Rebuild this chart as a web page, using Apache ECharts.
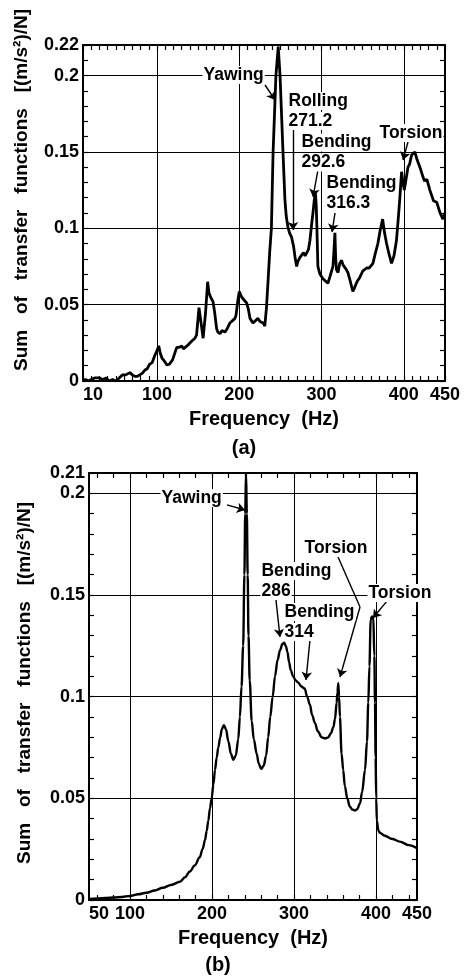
<!DOCTYPE html>
<html>
<head>
<meta charset="utf-8">
<script src="https://cdn.jsdelivr.net/npm/echarts@6/dist/echarts.min.js"></script>
<style>
html, body { margin: 0; padding: 0; background: #fff; }
#chart { width: 465px; height: 976px; }
</style>
</head>
<body>
<div id="chart"></div>
<script>
// (a) measured sum of transfer functions
var freqA = [10, 13, 17, 20, 24, 30, 34, 38, 42, 46, 50, 54, 58, 62, 67, 70, 73, 76, 79, 82, 85, 88, 91, 94, 97.5, 100,
  102, 104, 106, 109, 112, 115, 119, 122, 124, 127, 130, 132, 134, 137.6, 140, 142, 146, 148, 151, 153, 156, 159, 161.5,
  163, 165, 168, 170, 172.5, 174, 176.5, 179, 182.5, 185, 188.6, 191, 194.7, 196, 198, 200, 202.8, 205, 209, 211, 213,
  216.6, 219, 222.7, 225, 227, 229, 231, 233, 235, 237, 239, 241, 244.5, 247.3, 249.5, 251.5, 253, 255.4, 257, 259, 261,
  263.6, 266, 268, 269.7, 271, 273.7, 276, 278, 280, 282, 284, 285.8, 288, 289.5, 291, 292.5, 293.5, 294.3, 295.5, 298,
  301.6, 304, 307.7, 310, 313.8, 315, 316.2, 317, 318, 320, 322, 324.3, 326, 328.3, 330, 332, 335, 338, 340, 343, 346.6,
  350, 354.7, 358, 362.4, 365, 368.4, 371, 374.2, 376.5, 379, 382, 385, 388, 391, 393, 395, 397.2, 399, 400.5, 402.5,
  405, 407, 409.4, 413.4, 416, 419.5, 423, 425, 428, 431.6, 436, 440, 444, 447.4, 450];
var valA = [0, 0.001, 0, 0.001, 0.002, 0.002, 0.001, 0.002, 0, 0.001, 0, 0.002, 0.004, 0.004, 0.0055, 0.004, 0.003, 0.003,
  0.004, 0.005, 0.007, 0.008, 0.011, 0.012, 0.017, 0.02,
  0.023, 0.018, 0.015, 0.013, 0.0105, 0.011, 0.014, 0.019, 0.022, 0.022, 0.023, 0.021, 0.021, 0.0236, 0.024, 0.026,
  0.028, 0.03, 0.048, 0.04, 0.028, 0.045, 0.065,
  0.058, 0.055, 0.052, 0.045, 0.034, 0.032, 0.031, 0.033, 0.032, 0.034, 0.038, 0.039, 0.041, 0.043, 0.052, 0.0586,
  0.055, 0.054, 0.051, 0.047, 0.041,
  0.038, 0.039, 0.041, 0.039, 0.04, 0.038, 0.036, 0.048, 0.066, 0.085, 0.1, 0.149, 0.2, 0.219, 0.2, 0.172, 0.151, 0.119,
  0.108, 0.101, 0.097,
  0.094, 0.088, 0.08, 0.075, 0.078, 0.081, 0.081, 0.084, 0.082, 0.083, 0.086, 0.092, 0.103, 0.11, 0.118, 0.123, 0.115,
  0.1, 0.075, 0.07,
  0.067, 0.066, 0.064, 0.068, 0.075, 0.085, 0.097, 0.082, 0.073, 0.071, 0.077, 0.079, 0.076, 0.075, 0.073, 0.071, 0.065,
  0.0586, 0.061, 0.065, 0.068,
  0.072, 0.074, 0.074, 0.077, 0.083, 0.09, 0.098, 0.106, 0.097, 0.09, 0.083, 0.077, 0.082, 0.092, 0.105, 0.119, 0.137,
  0.13, 0.125, 0.126,
  0.14, 0.142, 0.148, 0.15, 0.145, 0.14, 0.134, 0.131, 0.132, 0.125, 0.118, 0.117, 0.11, 0.106, 0.11];

// (b) calculated sum of transfer functions
var freqB = [50, 60, 70, 80, 90, 100, 110, 120, 130, 140, 150, 161, 167, 173, 179, 185, 188.5, 191.5, 193.5, 195.5,
  197.5, 199.6, 201.7, 203.7, 205.7, 207.7, 210, 212, 214.5, 217, 220, 223, 226, 229, 232, 234, 236, 238, 239.5, 240.5,
  241.5, 242.5, 243.5, 244.5, 246, 248.4, 251, 254.5, 257, 260, 263, 266, 268.5, 271, 274, 276.8, 280, 283, 286, 288,
  290, 292, 294, 296, 299, 302, 305, 309, 313, 316, 319.5, 322, 325.6, 329, 333.8, 338, 341.8, 345, 348, 350, 352, 353,
  354, 355, 356, 358, 360, 362, 365, 368, 371, 374.4, 377, 380.5, 383, 386.6, 389, 390.6, 392, 393.5, 395, 396.7, 398,
  398.8, 399.5, 400.3, 401, 403, 405, 410, 420, 429, 440, 450];
var valB = [0.0005, 0.0008, 0.001, 0.0012, 0.0015, 0.002, 0.0028, 0.0036, 0.0047, 0.006, 0.0074, 0.009, 0.0112, 0.014,
  0.017, 0.021, 0.025, 0.0295, 0.034, 0.039,
  0.045, 0.05, 0.057, 0.064, 0.07, 0.075, 0.08, 0.084, 0.086, 0.084, 0.078, 0.072, 0.069, 0.071, 0.079, 0.09, 0.105,
  0.125, 0.16, 0.19,
  0.21, 0.19, 0.16, 0.13, 0.108, 0.088, 0.079, 0.072, 0.067, 0.0645, 0.066, 0.071, 0.08, 0.09, 0.1, 0.11, 0.118, 0.123,
  0.126, 0.1265,
  0.125, 0.122, 0.117, 0.113, 0.11, 0.108, 0.107, 0.105, 0.104, 0.1, 0.096, 0.091, 0.087, 0.083, 0.08, 0.0795, 0.08,
  0.082, 0.085, 0.089, 0.097, 0.102,
  0.1066, 0.1, 0.09, 0.072, 0.064, 0.056, 0.05, 0.046, 0.0445, 0.044, 0.0447, 0.0475, 0.053, 0.064, 0.078, 0.097, 0.115,
  0.1376, 0.1395, 0.139, 0.12,
  0.097, 0.07, 0.05, 0.039, 0.034, 0.033, 0.0317, 0.03, 0.0287, 0.027, 0.0255];

// tick labels
var xLabelsA = [10, 100, 200, 300, 400, 450];
var yLabelsA = [0, 0.05, 0.1, 0.15, 0.2, 0.22];
var xLabelsB = [50, 100, 200, 300, 400, 450];
var yLabelsB = [0, 0.05, 0.1, 0.15, 0.2, 0.21];
var xGridA = [100, 200, 300, 400];
var xGridB = [100, 200, 300, 400];
var yGridA = [0.05, 0.1, 0.15, 0.2];
var yGridB = [0.05, 0.1, 0.15, 0.2];

// annotations: [freq, value] of the text's left edge, then arrow [f1, v1, f2, v2]
var notesA = [
  { name: 'Yawing', at: [154.6, 0.2004] },
  { name: 'Rolling\n271.2', at: [258, 0.1768] },
  { name: 'Bending\n292.6', at: [273.8, 0.1496] },
  { name: 'Bending\n316.3', at: [304.2, 0.1231] },
  { name: 'Torsion', at: [368.6, 0.1624] }
];
var arrowsA = [
  [231.2, 0.1938, 243.4, 0.184],
  [265.3, 0.1657, 265.3, 0.0989],
  [295.6, 0.1382, 289.6, 0.1205],
  [316.3, 0.110, 312.7, 0.0976],
  [405, 0.1565, 399, 0.1447]
];
var notesB = [
  { name: 'Yawing', at: [136.6, 0.1977] },
  { name: 'Bending\n286', at: [258.5, 0.1569] },
  { name: 'Bending\n314', at: [286.6, 0.1367] },
  { name: 'Torsion', at: [311, 0.1731] },
  { name: 'Torsion', at: [389, 0.151] }
];
var arrowsB = [
  [218.3, 0.1943, 240.2, 0.1918],
  [278, 0.1476, 282.9, 0.1294],
  [319.5, 0.1279, 314.6, 0.1082],
  [380.5, 0.1441, 356.1, 0.1097],
  [414.6, 0.1476, 396.3, 0.1387]
];
var bendB = [[353.7, 0.1687, 380.5, 0.1441]]; // first leg of the curved torsion arrow

function steps(a, b, s) {
  var out = [];
  for (var v = a; v <= b + 1e-9; v += s) out.push(Math.round(v * 1000) / 1000);
  return out;
}
function zip(xs, ys) {
  return xs.map(function (x, i) { return [x, ys[i]]; });
}

var FONT = 'Liberation Sans, Arial, sans-serif';
var lab = { color: '#000', fontFamily: FONT, fontWeight: 'bold', fontSize: 18 };
var noteLab = { color: '#000', fontFamily: FONT, fontWeight: 'bold', fontSize: 17.5 };
var YTITLE = 'Sum   of   transfer   functions   [(m/s²)/N]';

function xAxisOf(grid, min, max, labels, ticks, top) {
  return {
    type: 'value', gridIndex: grid, min: min, max: max, position: top ? 'top' : 'bottom',
    axisLine: { onZero: false, lineStyle: { color: '#000', width: 2 } },
    axisTick: { inside: true, length: 5, customValues: ticks, lineStyle: { color: '#000', width: 1.2 } },
    axisLabel: top ? { show: false } : Object.assign({ customValues: labels, margin: 5, alignMinLabel: 'left' }, lab),
    splitLine: { show: false },
    name: top ? '' : 'Frequency  (Hz)', nameLocation: 'middle', nameGap: 28,
    nameTextStyle: { color: '#000', fontFamily: FONT, fontWeight: 'bold', fontSize: 20 }
  };
}
function yAxisOf(grid, max, labels, ticks, right) {
  return {
    type: 'value', gridIndex: grid, min: 0, max: max, position: right ? 'right' : 'left',
    axisLine: { onZero: false, lineStyle: { color: '#000', width: 2 } },
    axisTick: { inside: true, length: 5, customValues: ticks, lineStyle: { color: '#000', width: 1.2 } },
    axisLabel: right ? { show: false } : Object.assign({ customValues: labels, margin: 4 }, lab),
    splitLine: { show: false }
  };
}
function gridLines(xs, ys) {
  return xs.map(function (x) { return { xAxis: x }; }).concat(ys.map(function (y) { return { yAxis: y }; }));
}
function arrowData(list, head) {
  return list.map(function (a) {
    return [{ coord: [a[0], a[1]], symbol: 'none' }, { coord: [a[2], a[3]], symbol: head ? 'arrow' : 'none' }];
  });
}
function noteSeries(xi, yi, notes, arrows, legs) {
  return {
    type: 'scatter', xAxisIndex: xi, yAxisIndex: yi, z: 5, silent: true,
    symbolSize: 1, itemStyle: { color: 'rgba(0,0,0,0)', opacity: 1 },
    data: notes.map(function (n) { return { name: n.name, value: n.at }; }),
    label: Object.assign({
      show: true, position: 'right', distance: 0, align: 'left', verticalAlign: 'middle', opacity: 1,
      formatter: function (p) {
        // each line gets its own white box so arrows passing beside a short line stay visible
        return p.name.split('\n').map(function (s) { return '{t|' + s + '}'; }).join('\n');
      },
      rich: { t: Object.assign({ backgroundColor: '#fff', padding: [0, 1], lineHeight: 20 }, noteLab) }
    }, noteLab),
    markLine: {
      silent: true, symbolSize: 8, animation: false,
      lineStyle: { color: '#000', width: 1.4, type: 'solid', opacity: 1 }, label: { show: false },
      data: arrowData(arrows, true).concat(arrowData(legs || [], false))
    }
  };
}
function curveSeries(xi, yi, data, width, smooth, xs, ys) {
  return {
    type: 'line', xAxisIndex: xi, yAxisIndex: yi, z: 3, silent: true, showSymbol: false,
    smooth: smooth, smoothMonotone: smooth ? 'x' : undefined,
    lineStyle: { color: '#000', width: width }, data: data,
    markLine: {
      silent: true, symbol: 'none', animation: false,
      lineStyle: { color: '#000', width: 1, type: 'solid' }, label: { show: false },
      data: gridLines(xs, ys)
    }
  };
}

var myChart = echarts.init(document.getElementById('chart'));
var option = {
  animation: false,
  backgroundColor: '#fff',
  grid: [
    { left: 83, top: 45, width: 362, height: 336 },
    { left: 89, top: 473, width: 328, height: 427 }
  ],
  xAxis: [
    xAxisOf(0, 10, 450, xLabelsA, steps(10, 450, 10), false),
    xAxisOf(0, 10, 450, xLabelsA, steps(10, 450, 10), true),
    xAxisOf(1, 50, 450, xLabelsB, steps(60, 440, 20), false),
    xAxisOf(1, 50, 450, xLabelsB, steps(60, 440, 20), true)
  ],
  yAxis: [
    yAxisOf(0, 0.22, yLabelsA, steps(0, 0.22, 0.01), false),
    yAxisOf(0, 0.22, yLabelsA, steps(0, 0.22, 0.01), true),
    yAxisOf(1, 0.21, yLabelsB, steps(0, 0.21, 0.01), false),
    yAxisOf(1, 0.21, yLabelsB, steps(0, 0.21, 0.01), true)
  ],
  series: [
    curveSeries(0, 0, zip(freqA, valA), 2.8, false, xGridA, yGridA),
    curveSeries(2, 2, zip(freqB, valB), 2.4, 0.35, xGridB, yGridB),
    noteSeries(0, 0, notesA, arrowsA),
    noteSeries(2, 2, notesB, arrowsB, bendB)
  ],
  graphic: [
    { type: 'text', x: 22, y: 190, rotation: Math.PI / 2,
      style: { text: YTITLE, font: 'bold 19px ' + FONT, fill: '#000', textAlign: 'center', textVerticalAlign: 'middle' } },
    { type: 'text', x: 25, y: 683, rotation: Math.PI / 2,
      style: { text: YTITLE, font: 'bold 19px ' + FONT, fill: '#000', textAlign: 'center', textVerticalAlign: 'middle' } },
    { type: 'text', x: 244, y: 448,
      style: { text: '(a)', font: 'bold 20px ' + FONT, fill: '#000', textAlign: 'center', textVerticalAlign: 'middle' } },
    { type: 'text', x: 218, y: 965,
      style: { text: '(b)', font: 'bold 20px ' + FONT, fill: '#000', textAlign: 'center', textVerticalAlign: 'middle' } }
  ]
};
myChart.setOption(option);
</script>
</body>
</html>
